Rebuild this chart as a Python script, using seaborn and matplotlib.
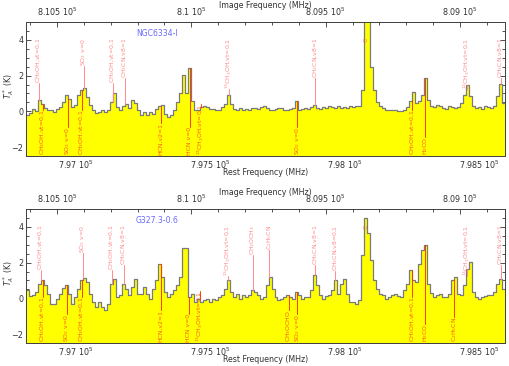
import numpy as np
import matplotlib
matplotlib.use("Agg")
import matplotlib.pyplot as plt
from matplotlib.ticker import MultipleLocator, FuncFormatter
import seaborn as sns

# spectral grid (rest frequency, MHz)
rest_start = 796813.0
chan_width = 11.14
image_sum = 1607428.0   # rest + image frequency

# T_A* (K) per channel
ngc_ta = [-0.22, -0.1, 0.15, 0.0, 0.62, 0.43, 0.2, 0.06, 0.1, -0.04,
          0.15, 0.25, 0.5, 0.9, 0.7, 0.25, 0.35, 0.9, 1.18, 1.33,
          0.8, 0.35, 0.06, -0.12, -0.04, 0.06, -0.04, 0.1, 0.52, 1.0,
          0.25, 0.1, 0.3, 0.4, 0.2, 0.66, 0.47, 0.06, -0.22, -0.04,
          -0.2, -0.04, -0.13, 0.15, 0.3, 0.35, -0.13, -0.32, -0.22, 0.05,
          0.5, 1.05, 2.03, 1.0, 2.4, 0.6, 0.06, 0.06, 0.25, 0.3,
          0.25, 0.15, 0.15, 0.1, 0.06, 0.25, 0.43, 0.9, 0.43, 0.15,
          0.1, 0.2, 0.06, 0.15, 0.1, 0.19, 0.19, 0.13, 0.24, 0.28,
          0.19, 0.1, 0.06, 0.13, 0.19, 0.19, 0.1, 0.06, 0.13, 0.19,
          0.6, 0.1, 0.13, 0.19, 0.13, 0.24, 0.35, 0.19, 0.13, 0.24,
          0.19, 0.32, 0.24, 0.19, 0.28, 0.19, 0.24, 0.19, 0.32, 0.24,
          0.28, 0.28, 1.22, 5.4, 5.2, 2.5, 1.2, 0.5, 0.28, 0.19,
          0.1, 0.1, 0.06, 0.1, 0.0, 0.0, 0.1, 0.24, 0.56, 1.07,
          0.47, 0.56, 0.9, 1.88, 0.66, 0.28, 0.24, 0.38, 0.28, 0.19,
          0.13, 0.28, 0.24, 0.19, 0.24, 0.47, 0.94, 1.5, 0.85, 0.28,
          0.19, 0.24, 0.13, 0.28, 0.24, 0.19, 0.32, 0.85, 1.55, 0.47]

g327_ta = [0.45, 0.11, 0.17, 0.36, 0.82, 1.01, 0.73, 0.26, -0.3, -0.3,
           -0.02, 0.26, 0.6, 0.73, 0.26, -0.3, 0.07, 0.54, 1.01, 1.16,
           0.92, 0.26, -0.2, -0.49, -0.2, -0.49, -0.67, -0.3, 0.82, 1.1,
           0.07, 0.17, 0.82, 0.54, 0.17, 0.64, 1.1, 0.26, 0.26, 0.64,
           0.26, -0.02, 0.54, 1.01, 1.95, 1.2, 0.36, 0.07, 0.26, 0.45,
           0.73, 1.2, 2.8, 2.8, 0.1, 0.26, -0.2, -0.02, -0.2, -0.1,
           -0.02, -0.2, -0.02, -0.1, 0.07, 0.17, 0.54, 1.01, 0.36, 0.07,
           0.26, -0.02, 0.17, 0.07, 0.17, 0.45, 0.36, 0.17, -0.02, 0.07,
           0.73, 1.2, 0.54, 0.07, -0.1, -0.02, 0.07, 0.17, 0.07, -0.02,
           0.36, 0.17, -0.02, 0.07, 0.07, 0.45, 1.3, 0.73, 0.17, -0.02,
           0.11, 0.17, 0.45, 1.01, 0.26, 0.82, 1.1, 0.26, -0.2, -0.2,
           -0.3, -0.1, 2.42, 4.48, 3.63, 2.13, 1.01, 0.54, 0.26, 0.17,
           -0.02, 0.07, 0.17, 0.26, 0.11, 0.07, 0.45, 0.82, 1.57, 1.01,
           0.92, 1.95, 2.7, 3.0, 0.82, 0.3, 0.07, 0.17, 0.26, 0.07,
           0.07, 0.26, 1.01, 1.2, 0.26, 0.17, 0.73, 1.67, 2.04, 0.36,
           0.07, -0.02, 0.07, 0.11, 0.17, 0.17, 0.36, 0.82, 1.1, 0.54]

# line identifications (rest frequency MHz)
ngc_up_freq = [796861, 797028, 797136, 797181, 797567, 797890, 798454, 798580]
ngc_up_lab = [r"CH$_3$OH,vt=0,1", r"SO$_2$ v=0", r"CH$_3$OH,vt=0,1", r"CH$_3$CN,v8=1",
              r"$^{13}$CH$_3$OH,vt=0,1", r"CH$_3$CN,v8=1", r"$^{13}$CH$_3$OH,vt=0,1",
              r"CH$_3$CN,v8=1"]
ngc_low_freq = [796876, 796969, 797021, 797314, 797422, 797463, 797823, 798250, 798298]
ngc_low_lab = [r"CH$_3$OH,vt=0,1", r"SO$_2$ v=0", r"CH$_3$OH,vt=0,1", "HCN,v2=1", "HCN v=0",
               r"$^{13}$CH$_3$OH,vt=0,1", r"SO$_2$ v=0", r"CH$_3$OH,vt=0,1", r"H$_2$CO"]

g327_up_freq = [796869, 797025, 797132, 797177, 797563, 797656, 797719, 797890,
                797964, 798454, 798580]
g327_up_lab = [r"CH$_3$OH,vt=0,1", r"SO$_2$ v=0", r"CH$_3$OH,vt=0,1", r"CH$_3$CN,v8=1",
               r"$^{13}$CH$_3$OH,vt=0,1", r"CH$_3$OCH$_3$", r"C$_2$H$_5$CN",
               r"CH$_3$CN,v8=1", r"CH$_3$CN,v8=0,1", r"$^{13}$CH$_3$OH,vt=0,1",
               r"CH$_3$CN,v8=1"]
g327_low_freq = [796876, 796965, 797021, 797314, 797418, 797459, 797790, 797823,
                 798250, 798298, 798406]
g327_low_lab = [r"CH$_3$OH,vt=0,1", r"SO$_2$ v=0", r"CH$_3$OH,vt=0,1", "HCN,v2=1", "HCN v=0",
                r"$^{13}$CH$_3$OH,vt=0,1", r"CH$_3$OCHO", r"SO$_2$ v=0",
                r"CH$_3$OH,vt=0,1", r"H$_2$CO", r"C$_2$H$_5$CN"]

c_freq = 798079

sns.set_style("ticks")
plt.rcParams["font.family"] = ["DejaVu Sans"]
plt.rcParams["mathtext.fontset"] = "dejavusans"

fig = plt.figure(figsize=(5.09, 3.66), dpi=100)

up_col = "#ff8a8a"
low_col = "#ff5a1a"
txt_col = "#333333"
pending = []


def fmt(v, pos):
    return f"{v / 1e5:g} $10^5$"


def draw_panel(rect, ta, source, up_freq, up_lab, low_freq, low_lab):
    ax = fig.add_axes(rect)
    n = len(ta)
    edges = rest_start + chan_width * np.arange(n + 1)
    steps = np.append(ta, ta[-1])
    ax.fill_between(edges, steps, -3, step="post", color="#ffff00", lw=0, zorder=1)
    sns.lineplot(x=edges, y=steps, drawstyle="steps-post", color="#7a7a7a", lw=0.9,
                 estimator=None, sort=False, ax=ax, zorder=2)
    ax.set_xlim(edges[0], edges[-1])
    ax.set_ylim(-2.5, 5.0)

    def level(f):
        return ta[int((f - rest_start) // chan_width)]

    for f, lab in zip(up_freq, up_lab):
        t = ax.text(f, 4.12, lab, rotation=90, ha="center", va="top", fontsize=4.4,
                    color=up_col, zorder=4)
        pending.append((ax, t, f, level(f), True))
    for f, lab in zip(low_freq, low_lab):
        t = ax.text(f, -2.45, lab, rotation=90, ha="center", va="bottom", fontsize=4.4,
                    color=low_col, zorder=4)
        pending.append((ax, t, f, level(f), False))
    ax.text(c_freq, 4.12, "C", rotation=90, ha="center", va="top", fontsize=4.4,
            color="#ff6a6a", zorder=4)

    ax.text(0.273, 0.915, source, transform=ax.transAxes, ha="center", va="center",
            fontsize=5.6, color="#6a6aff")

    ax.xaxis.set_major_locator(MultipleLocator(500))
    ax.xaxis.set_minor_locator(MultipleLocator(100))
    ax.xaxis.set_major_formatter(FuncFormatter(fmt))
    ax.yaxis.set_major_locator(MultipleLocator(2))
    ax.yaxis.set_minor_locator(MultipleLocator(0.5))
    ax.tick_params(which="both", direction="in", top=False, bottom=True, left=True,
                   right=True, labelsize=5.8, colors=txt_col, width=0.6, pad=2)
    ax.tick_params(which="major", length=3.5)
    ax.tick_params(which="minor", length=2)
    ax.set_xlabel("Rest Frequency (MHz)", fontsize=5.7, color=txt_col, va="center")
    ax.xaxis.set_label_coords(0.5, -0.125)
    ax.set_ylabel(r"$T_A^*$ (K)", fontsize=5.7, color=txt_col, va="center")
    ax.yaxis.set_label_coords(-0.036, 0.52)

    ax2 = ax.twiny()
    ax2.set_xlim(image_sum - edges[0], image_sum - edges[-1])
    ax2.xaxis.set_major_locator(MultipleLocator(500))
    ax2.xaxis.set_minor_locator(MultipleLocator(100))
    ax2.xaxis.set_major_formatter(FuncFormatter(fmt))
    ax2.tick_params(which="both", direction="in", labelsize=5.8, colors=txt_col,
                    width=0.6, pad=3.2)
    ax2.tick_params(which="major", length=3.5)
    ax2.tick_params(which="minor", length=2)
    ax2.set_xlabel("Image Frequency (MHz)", fontsize=5.7, color=txt_col, va="center")
    ax2.xaxis.set_label_coords(0.5, 1.122)
    for a in (ax, ax2):
        for s in a.spines.values():
            s.set_linewidth(0.7)
            s.set_color("#444444")
    return ax


draw_panel([0.0511, 0.5738, 0.9411, 0.3661], ngc_ta, "NGC6334-I",
           ngc_up_freq, ngc_up_lab, ngc_low_freq, ngc_low_lab)
draw_panel([0.0511, 0.0628, 0.9411, 0.3661], g327_ta, "G327.3-0.6",
           g327_up_freq, g327_up_lab, g327_low_freq, g327_low_lab)

# marker lines between the spectrum and each label
fig.canvas.draw()
renderer = fig.canvas.get_renderer()
for ax, t, f, lev, upper in pending:
    bb = t.get_window_extent(renderer).transformed(ax.transData.inverted())
    if upper:
        ax.plot([f, f], [lev, bb.y0], color=up_col, lw=0.7, zorder=3)
    else:
        ax.plot([f, f], [lev, bb.y1], color="#ff3c00", lw=0.7, zorder=3)

fig.savefig("out.png", dpi=100)
